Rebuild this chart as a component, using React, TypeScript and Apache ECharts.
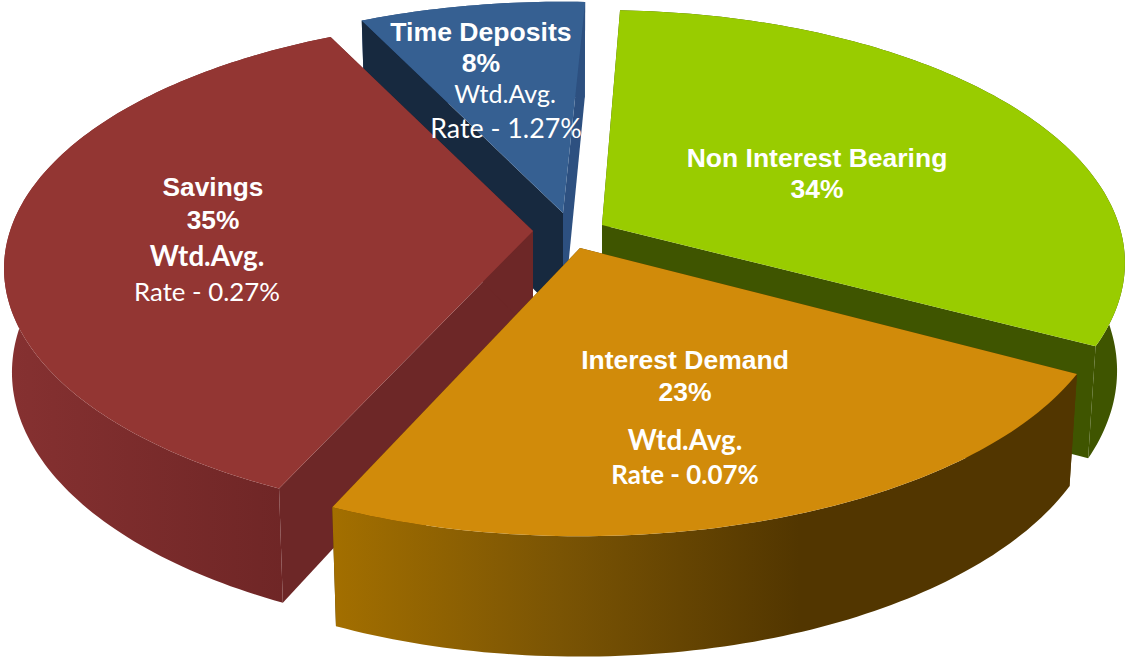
import React, { useEffect, useRef } from "react";
import * as echarts from "echarts";

// ---- data ----
const categories = ["Non Interest Bearing", "Time Deposits", "Savings", "Interest Demand"];
const shares = [34, 8, 35, 23];
const rates = [null, "1.27", "0.27", "0.07"];

// ---- layout of each wedge (apex on the page, start angle, perspective stretch of the sweep) ----
const apexX = [602, 563, 533, 580];
const apexY = [225, 213, 231, 248];
const startAngle = [87.7, 116, 245.2, -28.5];
const sweepStretch = [0.939, 1.0, 1.025, 1.033];
const radiusX = [517, 521, 523, 525];
const radiusY = [247, 243, 245, 245];
const depth = [106, 106, 102, 106];
const PERSP = 0.15;
const BOTTOM_SCALE = 0.985;

const topColors = ["#99cc00", "#366092", "#933633", "#d18b0a"];
const startWall = ["#3f5500", "#17293f", "#6d2727", "#523600"];
const endWall = ["#3f5500", "#2d5080", "#6d2727", "#523600"];
const outerStops: [number, string][][] = [
  [[0, "#3f5500"], [1, "#3f5500"]],
  [[0, "#2d5080"], [1, "#2d5080"]],
  [[0, "#863131"], [1, "#6b2424"]],
  [[0, "#a36f00"], [0.306, "#7a5404"], [0.627, "#523600"], [1, "#523600"]],
];

function project(i: number, deg: number, r: number) {
  const t = (deg * Math.PI) / 180;
  const X = r * Math.cos(t);
  const Y = r * Math.sin(t);
  const s = 1 / (1 + PERSP * Y);
  const dx = radiusX[i] * X * s;
  const dy = -radiusY[i] * Y * s;
  return {
    top: [apexX[i] + dx, apexY[i] + dy],
    bottom: [apexX[i] + dx * BOTTOM_SCALE, apexY[i] + dy * BOTTOM_SCALE + depth[i] * s],
  };
}

function renderSlice(params: any, api: any) {
  const i = params.dataIndex;
  const value = api.value(0);
  const sweep = value * 3.6 * sweepStretch[i];
  const n = Math.ceil(sweep);
  const topArc: number[][] = [];
  const bottomArc: number[][] = [];
  for (let k = 0; k <= n; k++) {
    const p = project(i, startAngle[i] - (sweep * k) / n, 1);
    topArc.push(p.top);
    bottomArc.push(p.bottom);
  }
  const apex = project(i, 0, 0);
  const xs = bottomArc.concat(topArc).map((p) => p[0]);
  const fillWall = {
    type: "linear",
    x: Math.min(...xs),
    y: 0,
    x2: Math.max(...xs),
    y2: 0,
    global: true,
    colorStops: outerStops[i].map(([offset, color]) => ({ offset, color })),
  };
  const poly = (points: number[][], fill: any) => ({
    type: "polygon",
    shape: { points },
    style: { fill },
  });
  const outer = poly(topArc.concat(bottomArc.slice().reverse()), fillWall);
  const cuts = [
    poly([apex.top, topArc[0], bottomArc[0], apex.bottom], startWall[i]),
    poly([apex.top, topArc[n], bottomArc[n], apex.bottom], endWall[i]),
  ];
  // A wedge on the far side shows its cut faces in front of its rim; a near wedge the reverse.
  const farSide = Math.sin(((startAngle[i] - sweep / 2) * Math.PI) / 180) > 0;
  return {
    type: "group",
    children: [
      ...(farSide ? [outer, ...cuts] : [...cuts, outer]),
      poly([apex.top, ...topArc], topColors[i]),
    ],
  };
}

const ARIAL = "'Liberation Sans', Arial, sans-serif";
const LATO = "Lato, sans-serif";
function label(text: string, x: number, y: number, size: number, family: string, weight: string) {
  return {
    type: "text",
    z: 20,
    x,
    y,
    style: {
      text,
      fill: "#ffffff",
      font: `${weight} ${size}px ${family}`,
      textAlign: "center",
      textVerticalAlign: "middle",
    },
  };
}

export default function App() {
  const ref = useRef<HTMLDivElement>(null);
  useEffect(() => {
    const chart = echarts.init(ref.current!, null, { renderer: "svg" });
    chart.setOption({
      animation: false,
      backgroundColor: "#ffffff",
      series: [
        {
          type: "custom",
          coordinateSystem: "none",
          renderItem: renderSlice,
          data: shares.map((v, i) => ({ name: categories[i], value: [v] })),
          silent: true,
        },
      ],
      graphic: [
        label(categories[1], 481, 32, 26.6, ARIAL, "bold"),
        label(`${shares[1]}%`, 481, 63, 26.6, ARIAL, "bold"),
        label("Wtd.Avg.", 505, 93, 25, LATO, "normal"),
        label(`Rate - ${rates[1]}%`, 506, 128, 26.8, LATO, "normal"),
        label(categories[2], 213, 187, 26.3, ARIAL, "bold"),
        label(`${shares[2]}%`, 213, 220, 26.3, ARIAL, "bold"),
        label("Wtd.Avg.", 207, 255, 27.7, LATO, "bold"),
        label(`Rate - ${rates[2]}%`, 207, 291, 25.8, LATO, "normal"),
        label(categories[0], 817, 158, 26.5, ARIAL, "bold"),
        label(`${shares[0]}%`, 817, 189, 26.5, ARIAL, "bold"),
        label(categories[3], 685, 360, 26.5, ARIAL, "bold"),
        label(`${shares[3]}%`, 685, 392, 26.5, ARIAL, "bold"),
        label("Wtd.Avg.", 685, 439, 27.7, LATO, "bold"),
        label(`Rate - ${rates[3]}%`, 685, 474, 25.9, LATO, "bold"),
      ],
    });
    return () => chart.dispose();
  }, []);
  return <div ref={ref} style={{ position: "fixed", left: 0, top: 0, width: 1126, height: 658 }} />;
}
